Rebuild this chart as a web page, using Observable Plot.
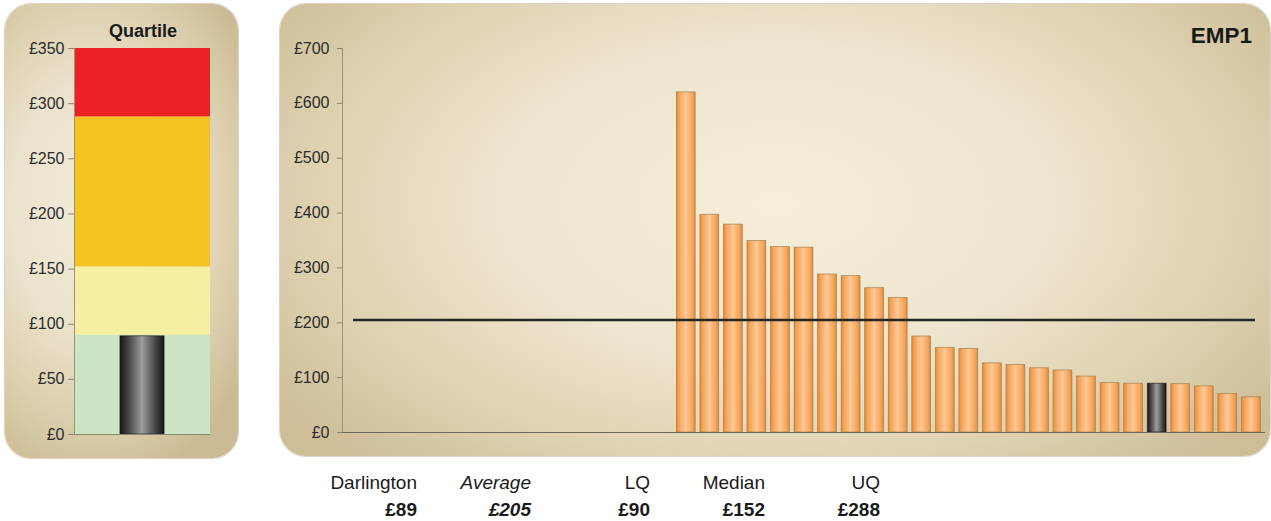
<!DOCTYPE html>
<html>
<head>
<meta charset="utf-8">
<script src="https://cdn.jsdelivr.net/npm/d3@7"></script>
<script src="https://cdn.jsdelivr.net/npm/@observablehq/plot@0.6"></script>
<style>
  body { margin: 0; background: #fff; width: 1271px; height: 521px; position: relative; overflow: hidden;
         font-family: "Liberation Sans", Arial, Helvetica, sans-serif; color: #1a1a1a; }
  .panel { position: absolute; border-radius: 26px; box-shadow: 0 0 1px 1px rgba(176, 150, 118, 0.45); }
  #quartile-panel { left: 5px; top: 4px; width: 233px; height: 454px;
    background: radial-gradient(ellipse 80% 62% at 38% 45%, #f3ecdb 0%, #ebe2cc 45%, #d9cca9 80%, #cbbb94 100%); }
  #emp-panel { left: 280px; top: 4px; width: 990px; height: 452px;
    background: radial-gradient(ellipse 62% 78% at 50% 44%, #f7eed9 0%, #eee5cf 45%, #dfd2b1 75%, #cdbe98 100%); }
  .chart { position: absolute; top: 0; }
  .title { position: absolute; font-weight: bold; white-space: nowrap; }
  .stat { position: absolute; width: 140px; text-align: right; font-size: 19px; line-height: 19px; white-space: nowrap; }
  .stat.value { font-weight: bold; }
  .stat.italic { font-style: italic; }
</style>
</head>
<body>
<svg width="0" height="0" style="position:absolute">
  <defs>
    <linearGradient id="barOrange" x1="0" x2="1" y1="0" y2="0">
      <stop offset="0" stop-color="#ea852a"/>
      <stop offset="0.14" stop-color="#f4a458"/>
      <stop offset="0.5" stop-color="#fcc896"/>
      <stop offset="0.86" stop-color="#f4a458"/>
      <stop offset="1" stop-color="#ea852a"/>
    </linearGradient>
    <linearGradient id="barDark" x1="0" x2="1" y1="0" y2="0">
      <stop offset="0" stop-color="#161616"/>
      <stop offset="0.16" stop-color="#3c3c3c"/>
      <stop offset="0.5" stop-color="#9c9c9c"/>
      <stop offset="0.84" stop-color="#3c3c3c"/>
      <stop offset="1" stop-color="#161616"/>
    </linearGradient>
  </defs>
</svg>

<div class="panel" id="quartile-panel"></div>
<div class="panel" id="emp-panel"></div>
<div class="title" style="left:83px;width:120px;text-align:center;top:22px;font-size:18px;line-height:18px;">Quartile</div>
<div class="title" style="right:19px;top:24px;font-size:22.5px;line-height:23px;">EMP1</div>
<div id="quartile-chart" class="chart" style="left:0px;width:240px;"></div>
<div id="emp-chart" class="chart" style="left:280px;width:991px;"></div>
<div id="stats"></div>

<script>
// EMP1 cost per authority (£), ranked high to low; null = no return
const emp1Values = [
  null, null, null, null, null, null, null, null, null, null, null, null, null, null,
  620, 397, 379, 349, 338, 337, 288, 285, 263, 245,
  175, 154, 152, 126, 123, 117, 113, 102, 90, 89,
  89, 88, 84, 70, 64
];
const darlingtonIndex = 34;

// Summary figures
const statLabels = ["Darlington", "Average", "LQ", "Median", "UQ"];
const statValues = [89, 205, 90, 152, 288];
const darlingtonValue = statValues[0];
const averageValue = statValues[1];
const lowerQuartile = statValues[2];
const medianValue = statValues[3];
const upperQuartile = statValues[4];

// Quartile gauge scale
const gaugeMax = 350;
const gaugeTicks = [0, 50, 100, 150, 200, 250, 300, 350];
const empTicks = [0, 100, 200, 300, 400, 500, 600, 700];

const pounds = d => `£${d}`;
const axisFont = {fontFamily: "'Liberation Sans', Arial, sans-serif", fontSize: "16px", background: "transparent", overflow: "visible"};

// ---- Quartile gauge ----
const bandFills = ["#cce6c4", "#f5f0a1", "#f4c321", "#ec2125"];
const bounds = [0, lowerQuartile, medianValue, upperQuartile, gaugeMax];
const bands = bounds.slice(0, -1).map((lo, i) => ({lo, hi: bounds[i + 1], fill: bandFills[i]}));

const gauge = Plot.plot({
  width: 240,
  height: 460,
  marginLeft: 74,
  marginRight: 30,
  marginTop: 48,
  marginBottom: 26,
  style: axisFont,
  x: {type: "band", domain: ["Darlington"], padding: 0.51, round: false, axis: null},
  y: {domain: [0, gaugeMax]},
  color: {type: "identity"},
  marks: [
    Plot.rect(bands, {y1: "lo", y2: "hi", fill: "fill"}),
    Plot.barY([{name: "Darlington", value: darlingtonValue}], {x: "name", y: "value", fill: "url(#barDark)", stroke: "#1a1a1a", strokeWidth: 0.6}),
    Plot.axisY(gaugeTicks, {tickFormat: pounds, tickSize: 6, tickPadding: 4, label: null, stroke: "#8c8470", fill: "#2b2b2b"}),
    Plot.frame({anchor: "left", stroke: "#9a927e"}),
    Plot.ruleY([0], {stroke: "#8a8676"})
  ]
});
document.getElementById("quartile-chart").append(gauge);

// ---- EMP1 ranked bars ----
const rows = emp1Values.map((value, i) => ({i, value})).filter(d => d.value != null);

const emp = Plot.plot({
  width: 991,
  height: 460,
  marginLeft: 62,
  marginRight: 6,
  marginTop: 48,
  marginBottom: 28,
  style: axisFont,
  x: {type: "band", domain: d3.range(emp1Values.length), padding: 0.2, round: false, axis: null},
  y: {domain: [0, 700]},
  marks: [
    Plot.barY(rows.filter(d => d.i !== darlingtonIndex), {x: "i", y: "value", fill: "url(#barOrange)", stroke: "#a8804f", strokeWidth: 0.7}),
    Plot.barY(rows.filter(d => d.i === darlingtonIndex), {x: "i", y: "value", fill: "url(#barDark)", stroke: "#2a2a2a", strokeWidth: 0.7}),
    Plot.ruleY([averageValue], {stroke: "#262626", strokeWidth: 2.4, insetLeft: 11, insetRight: 10}),
    Plot.axisY(empTicks, {tickFormat: pounds, tickSize: 5, tickPadding: 8, label: null, stroke: "#8c8470", fill: "#2b2b2b"}),
    Plot.frame({anchor: "left", stroke: "#9a927e"}),
    Plot.ruleY([0], {stroke: "#6c685c", strokeWidth: 1.2})
  ]
});
document.getElementById("emp-chart").append(emp);

// ---- Summary table under the chart ----
const statRight = [417, 531, 650, 765, 880];
const stats = document.getElementById("stats");
statLabels.forEach((label, i) => {
  const italic = label === "Average" ? " italic" : "";
  const head = document.createElement("div");
  head.className = "stat" + italic;
  head.style.left = (statRight[i] - 140) + "px";
  head.style.top = "473px";
  head.textContent = label;
  const val = document.createElement("div");
  val.className = "stat value" + italic;
  val.style.left = (statRight[i] - 140) + "px";
  val.style.top = "500px";
  val.textContent = pounds(statValues[i]);
  stats.append(head, val);
});
</script>
</body>
</html>
